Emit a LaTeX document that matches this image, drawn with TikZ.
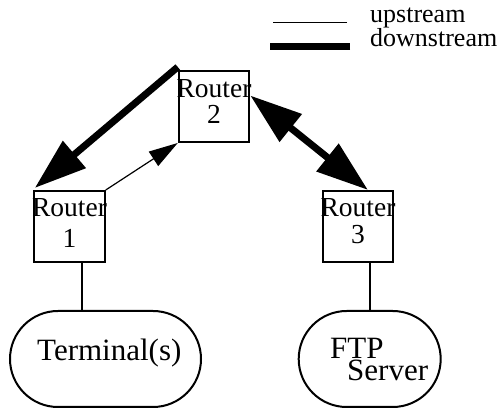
\documentclass[tikz,border=0pt]{standalone}
\usepackage{fontspec}
\setmainfont{Liberation Serif}
\usetikzlibrary{arrows.meta,positioning}
\begin{document}
\begin{tikzpicture}[
    x=1pt, y=1pt,
    router/.style={draw, line width=2pt, minimum width=70.5pt, minimum height=71pt, inner sep=0pt},
    rtext/.style={font=\fontsize{27.5}{#1}\selectfont, align=center, inner sep=0pt},
    rtext/.default=27,
    host/.style={draw, line width=2pt, rounded corners=48pt, minimum height=96pt, inner sep=0pt},
    htext/.style={font=\fontsize{31}{22}\selectfont, align=left, inner sep=0pt},
    legtext/.style={font=\fontsize{26}{26}\selectfont, anchor=base west, inner sep=0pt},
    bigtip/.tip={Triangle[length=52pt, width=34pt]},
    smalltip/.tip={Triangle[length=29pt, width=17pt]},
    upflow/.style={line width=1.2pt},
    downflow/.style={line width=7pt},
    link/.style={line width=2pt}
]
\useasboundingbox (0,0) rectangle (499,410);

% legend
\node[legtext] (uplab) at (370,387) {upstream};
\node[legtext] (downlab) at (370,363) {downstream};
\draw[upflow] ([xshift=-23pt,yshift=0.5pt]uplab.base west) -- ++(-74pt,0);
\draw[downflow] ([xshift=-20pt]downlab.base west) -- ++(-80pt,0);

% routers
\node[router] (r2) at (214,303.5) {};
\node[router] (r1) at (69.5,183.5) {};
\node[router] (r3) at (358,183.5) {};
\node[rtext=26, below=9pt of r2.north] (r2txt) {Router\\2};
\node[rtext=31, below=8pt of r1.north] (r1txt) {Router\\1};
\node[rtext=27, below=8pt of r3.north] (r3txt) {Router\\3};

% hosts
\node[host, minimum width=191pt] (term) at (105.5,51) {};
\node[host, minimum width=142pt] (ftp) at (369.7,51) {};
\node[htext, anchor=north west] (termtxt) at (37,71.5) {Terminal(s)};
\node[htext, anchor=north west] (ftptxt) at (330,71.5) {FTP\\\hspace*{17pt}Server};

\coordinate (t1) at ([xshift=12pt]r1.south);
\draw[link] (t1) -- (t1 |- term.north);
\draw[link] (r3.south -| ftp.north) -- (ftp.north);

% traffic
\draw[downflow, -bigtip] ([yshift=3pt]r2.north west) -- ([xshift=1.5pt,yshift=2pt]r1.north west);
\draw[upflow, -smalltip] (r1.north east) -- (r2.south west);
\draw[downflow, bigtip-bigtip] ([yshift=11pt]r2.east) -- ([xshift=10pt]r3.north);
\end{tikzpicture}
\end{document}
